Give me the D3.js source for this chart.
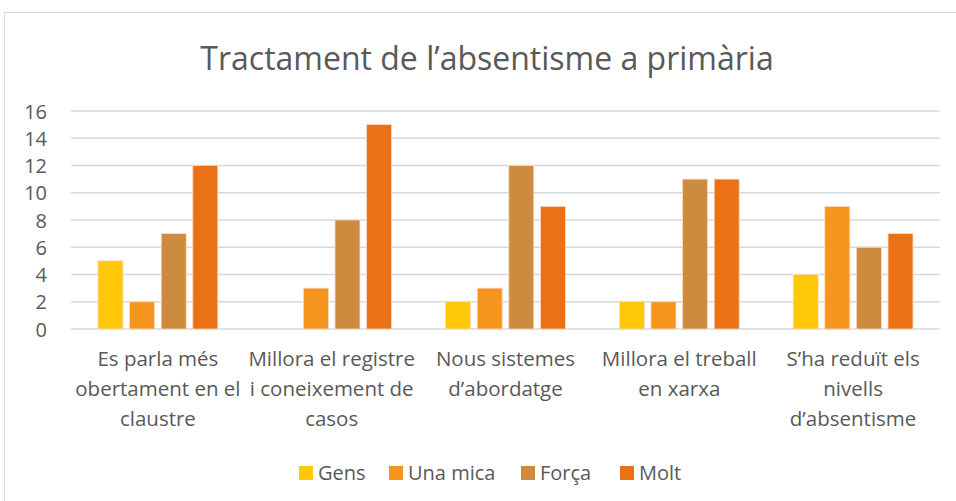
<!DOCTYPE html>
<html>
<head>
<meta charset="utf-8">
<script src="https://cdn.jsdelivr.net/npm/d3@7"></script>
<style>
  body { margin: 0; background: #fff; }
  text { font-family: "Open Sans", "Noto Sans", sans-serif; fill: #595959; }
</style>
</head>
<body>
<svg id="chart" width="956" height="501"></svg>
<script>
// data
const categories = [
  ["Es parla més", "obertament en el", "claustre"],
  ["Millora el registre", "i coneixement de", "casos"],
  ["Nous sistemes", "d’abordatge"],
  ["Millora el treball", "en xarxa"],
  ["S’ha reduït els", "nivells", "d’absentisme"]
];
const seriesNames = ["Gens", "Una mica", "Força", "Molt"];
const gens = [5, 0, 2, 2, 4];
const unaMica = [2, 3, 3, 2, 9];
const forca = [7, 8, 12, 11, 6];
const molt = [12, 15, 9, 11, 7];
const yTicks = [0, 2, 4, 6, 8, 10, 12, 14, 16];
const colors = ["#FFC90A", "#F7941D", "#CD8B3F", "#EA7116"];

const allSeries = [gens, unaMica, forca, molt];

let svg = d3.select("#chart");

// outer frame
svg.append("rect")
  .attr("x", 4.5).attr("y", 12.5)
  .attr("width", 960).attr("height", 500)
  .attr("fill", "none")
  .attr("stroke", "#D9D9D9");

// title
svg.append("text")
  .attr("x", 487).attr("y", 70)
  .attr("text-anchor", "middle")
  .style("font-size", "32px")
  .text("Tractament de l’absentisme a primària");

const plotL = 71, plotR = 940, plotT = 111, plotB = 329;

let x0 = d3.scaleBand()
  .domain(d3.range(categories.length))
  .range([plotL, plotR]);

let x1 = d3.scaleBand()
  .domain(d3.range(seriesNames.length))
  .range([0, x0.bandwidth()])
  .paddingInner(0.21)
  .paddingOuter(0.855);

let y = d3.scaleLinear().domain([0, 16]).range([plotB, plotT]);

// gridlines
svg.append("g")
  .selectAll("line")
  .data(yTicks)
  .enter()
  .append("line")
  .attr("x1", plotL).attr("x2", plotR)
  .attr("y1", d => y(d)).attr("y2", d => y(d))
  .attr("stroke", "#D9D9D9")
  .attr("stroke-width", 1.5);

// y axis labels
let yAxis = d3.axisLeft(y).tickValues(yTicks).tickSize(0).tickPadding(0);
let yg = svg.append("g").attr("transform", "translate(47,0)").call(yAxis);
yg.select(".domain").remove();
yg.selectAll("text")
  .style("font-size", "20px")
  .attr("fill", "#595959")
  .attr("dy", "0.35em");

// bars
allSeries.forEach((vals, s) => {
  svg.append("g")
    .selectAll("rect")
    .data(vals)
    .enter()
    .append("rect")
    .attr("x", (d, i) => x0(i) + x1(s))
    .attr("width", x1.bandwidth())
    .attr("y", d => y(d))
    .attr("height", d => y(0) - y(d))
    .attr("fill", colors[s])
    .attr("stroke", d => d > 0 ? "#FBD9C0" : "none")
    .attr("stroke-width", 0.8);
});

// category labels
let cat = svg.append("g")
  .selectAll("text")
  .data(categories)
  .enter()
  .append("text")
  .attr("text-anchor", "middle")
  .attr("x", (d, i) => x0(i) + x0.bandwidth() / 2)
  .attr("y", 366)
  .style("font-size", "20.5px");
cat.selectAll("tspan")
  .data(d => d)
  .enter()
  .append("tspan")
  .attr("x", function() { return d3.select(this.parentNode).attr("x"); })
  .attr("dy", (d, i) => i === 0 ? 0 : 30)
  .text(d => d);

// legend
const legendX = [299, 389, 521, 620];
let lg = svg.append("g")
  .selectAll("g")
  .data(seriesNames)
  .enter()
  .append("g")
  .attr("transform", (d, i) => "translate(" + legendX[i] + ",466)");
lg.append("rect")
  .attr("width", 14).attr("height", 14)
  .attr("fill", (d, i) => colors[i]);
lg.append("text")
  .attr("x", 19).attr("y", 14)
  .style("font-size", "20px")
  .text(d => d);
</script>
</body>
</html>
